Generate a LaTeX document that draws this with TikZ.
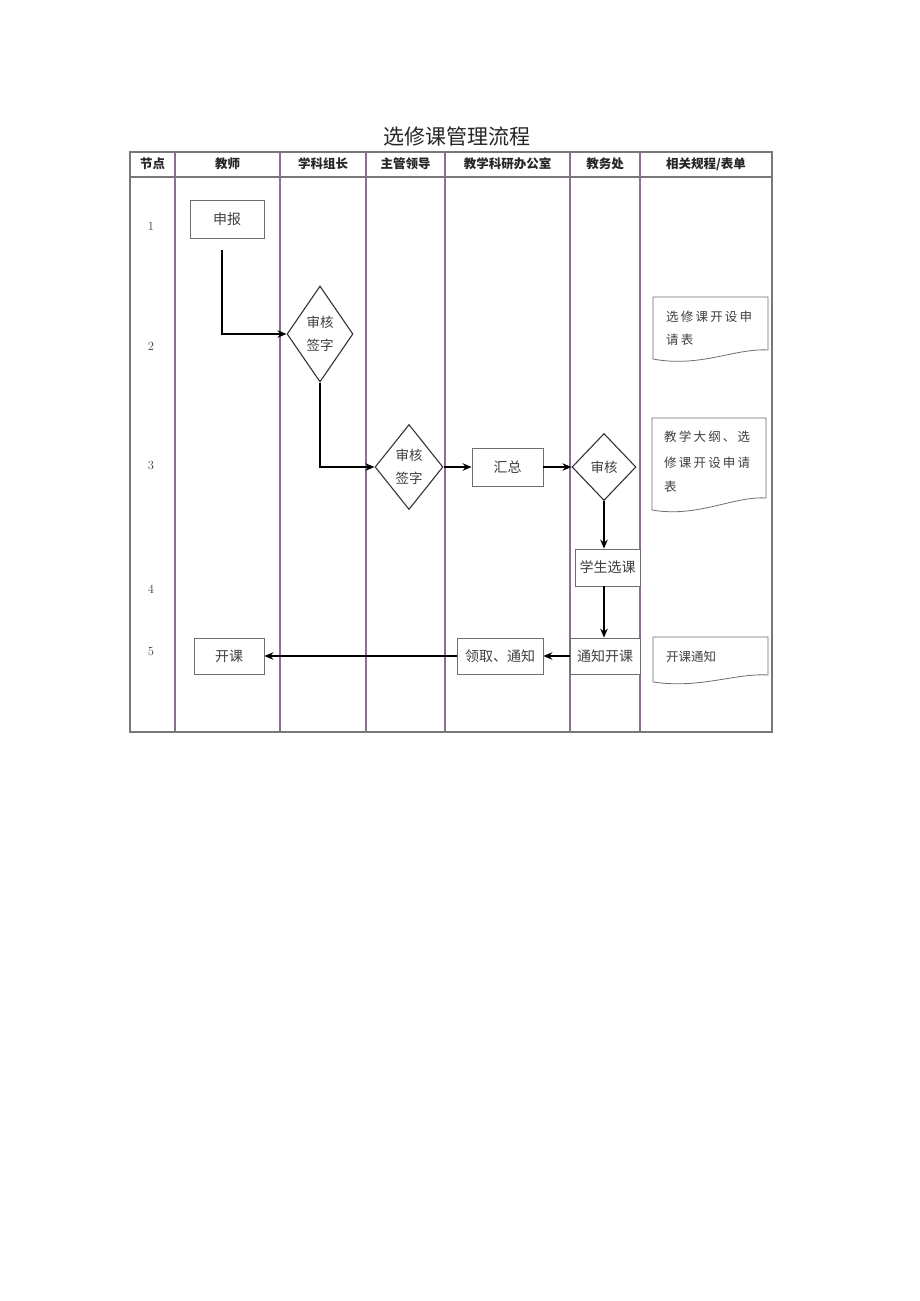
\documentclass[tikz,border=0pt]{standalone}
\usepackage{fontspec}
\newfontfamily\cjk{Noto Sans CJK SC}
\usetikzlibrary{shapes.geometric,arrows.meta}
\definecolor{tblgray}{RGB}{120,120,120}
\definecolor{colline}{RGB}{140,112,148}
\definecolor{boxgray}{RGB}{110,110,110}
\newcommand\ks{\kern2.2pt}
\tikzset{
  hdr/.style={font=\cjk\fontsize{12.5}{14}\selectfont\bfseries, text=black!85},
  num/.style={font=\fontsize{12.5}{14}\selectfont, text=black!75},
  procbox/.style={draw=boxgray, line width=0.8pt, fill=white, inner sep=0pt,
     font=\cjk\fontsize{14}{16}\selectfont, text=black!75},
  decide/.style={draw=black!80, line width=1.1pt, diamond, fill=white, inner sep=0pt,
     font=\cjk\fontsize{13.5}{23}\selectfont, text=black!75, align=center},
  flow/.style={draw=black, line width=1.3pt, -{Stealth[length=9pt,width=7.5pt]}},
  docshape/.style={draw=boxgray, line width=0.8pt, fill=white},
  doctext/.style={anchor=west, inner sep=0pt, font=\cjk\fontsize{12.5}{14}\selectfont, text=black!75},
}
\begin{document}
\begin{tikzpicture}[x=1pt,y=-1pt]
\useasboundingbox (0,0) rectangle (920,1301);
\fill[white] (0,0) rectangle (920,1301);

% title
\node[font=\cjk\fontsize{21}{24}\selectfont, text=black!85] (title) at (457,136) {选修课管理流程};

% table
\foreach \x in {175,280,366,445,570,640} {
  \draw[colline, line width=1.1pt] (\x,152) -- (\x,732);
}
\draw[tblgray, line width=1.3pt] (130,152) rectangle (772,732);
\draw[tblgray, line width=1.3pt] (130,177) -- (772,177);

% headers
\node[hdr] (h0) at (152.5,164) {节点};
\node[hdr] (h1) at (227.5,164) {教师};
\node[hdr] (h2) at (323,164) {学科组长};
\node[hdr] (h3) at (405.5,164) {主管领导};
\node[hdr] (h4) at (507.5,164) {教学科研办公室};
\node[hdr] (h5) at (605,164) {教务处};
\node[hdr] (h6) at (706,164) {相关规程/表单};

% row numbers
\node[num] (n1) at (151,226) {1};
\node[num] (n2) at (151,346) {2};
\node[num] (n3) at (151,465) {3};
\node[num] (n4) at (151,589) {4};
\node[num] (n5) at (151,651) {5};

% process nodes
\node[procbox, minimum width=74pt, minimum height=38pt] (sb) at (227,219) {申报};
\node[decide, minimum width=66pt, minimum height=96pt] (d1) at (320,334) {审核\\签字};
\node[decide, minimum width=68pt, minimum height=85pt] (d2) at (409,467) {审核\\签字};
\node[procbox, minimum width=71pt, minimum height=38pt] (hz) at (507.5,467) {汇总};
\node[decide, minimum width=64pt, minimum height=67pt] (d3) at (604,467) {审核};
\node[procbox, minimum width=65pt, minimum height=37pt] (xk) at (607.5,567.5) {学生选课};
\node[procbox, minimum width=70pt, minimum height=36pt] (tz) at (605,656) {通知开课};
\node[procbox, minimum width=86pt, minimum height=36pt] (lq) at (500,656) {领取、通知};
\node[procbox, minimum width=70pt, minimum height=36pt] (kk) at (229,656) {开课};

% connectors
\coordinate (s1) at (222,250);
\draw[flow] (s1) |- (d1.west);
\draw[flow] (d1.south) |- (d2.west);
\draw[flow] (d2.east) -- (hz.west);
\draw[flow] (hz.east) -- (d3.west);
\draw[flow] (d3.south) -- (d3.south |- xk.north);
\draw[flow] (xk.south -| d3.south) -- (d3.south |- tz.north);
\draw[flow] (tz.west) -- (lq.east);
\draw[flow] (lq.west) -- (kk.east);

% documents
\draw[docshape] (653,359) -- (653,297) -- (768,297) -- (768,350)
   .. controls (735,348) and (700,368) .. (653,359);
\node[doctext] (t1a) at (666,317) {选\ks 修\ks 课\ks 开\ks 设\ks 申};
\node[doctext] (t1b) at (666,340) {请\ks 表};

\draw[docshape] (652,510) -- (652,418) -- (766,418) -- (766,498)
   .. controls (733,496) and (698,518) .. (652,510);
\node[doctext] (t2a) at (664,437) {教\ks 学\ks 大\ks 纲\ks 、\ks 选};
\node[doctext] (t2b) at (664,463) {修\ks 课\ks 开\ks 设\ks 申\ks 请};
\node[doctext] (t2c) at (664,487) {表};

\draw[docshape] (653,682) -- (653,637) -- (768,637) -- (768,675)
   .. controls (735,673) and (700,689) .. (653,682);
\node[doctext] (t3) at (666,657) {开课通知};

\end{tikzpicture}
\end{document}
